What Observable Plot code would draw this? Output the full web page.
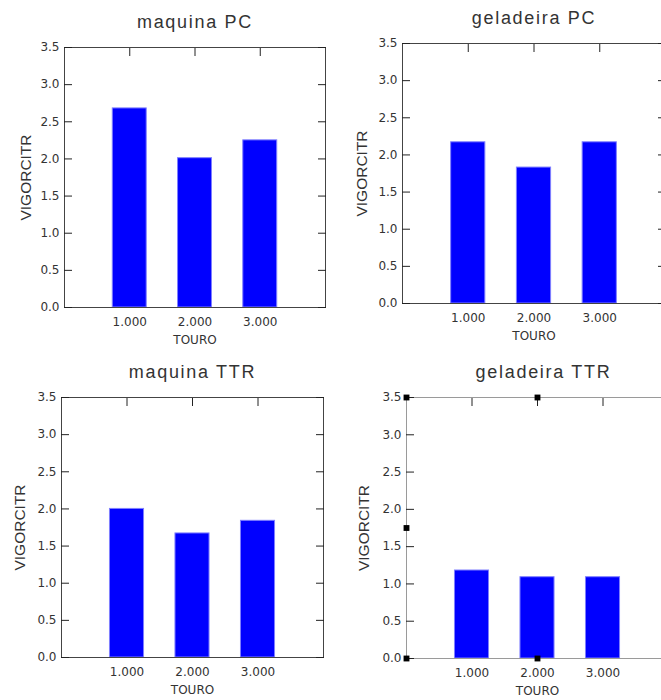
<!DOCTYPE html>
<html>
<head>
<meta charset="utf-8">
<script src="https://cdn.jsdelivr.net/npm/d3@7"></script>
<script src="https://cdn.jsdelivr.net/npm/@observablehq/plot@0.6"></script>
<style>
  html, body { margin: 0; padding: 0; background: #fff; }
  body { width: 661px; height: 700px; overflow: hidden; position: relative; }
  #wrap { position: absolute; left: 0; top: 0; width: 661px; height: 700px; overflow: hidden; }
  #wrap svg { position: absolute; max-width: none; }
</style>
</head>
<body>
<div id="wrap"></div>
<script>
// ---- data ----
const touro = [1, 2, 3];
const yTicks = [0, 0.5, 1, 1.5, 2, 2.5, 3, 3.5];
const titles = ["maquina PC", "geladeira PC", "maquina TTR", "geladeira TTR"];
const maquinaPC = [2.68, 2.01, 2.25];
const geladeiraPC = [2.17, 1.83, 2.17];
const maquinaTTR = [2.0, 1.67, 1.84];
const geladeiraTTR = [1.18, 1.09, 1.09];
const yLabel = "VIGORCITR";
const xLabel = "TOURO";
const handleAnchors = ["top-left", "top", "top-right", "left", "right", "bottom-left", "bottom", "bottom-right"];

// ---- layout (not data) ----
const panels = [
  {title: titles[0], values: maquinaPC,  left: 0,   top: 0,   mt: 47, mr: 15, mb: 43, ml: 64, frame: "#444", handles: false, ylDx: -38, tDx: 0},
  {title: titles[1], values: geladeiraPC, left: 330, top: 0,   mt: 43, mr: 5,  mb: 47, ml: 72, frame: "#444", handles: false, ylDx: -40, tDx: 0},
  {title: titles[2], values: maquinaTTR, left: 0,   top: 350, mt: 47, mr: 17, mb: 43, ml: 61, frame: "#444", handles: false, ylDx: -41, tDx: 0},
  {title: titles[3], values: geladeiraTTR, left: 330, top: 350, mt: 47, mr: 2, mb: 42, ml: 76, frame: "#9a9a9a", handles: true, ylDx: -42, tDx: 6}
];

const wrap = document.getElementById("wrap");
const fmt3 = d3.format(".3f");

for (const p of panels) {
  const rows = touro.map((t, i) => ({touro: t, v: p.values[i]}));
  const marks = [
    Plot.barY(rows, {x: "touro", y: "v", fill: "#0000ff", stroke: "#7f7fff", strokeWidth: 1}),
    Plot.frame({stroke: p.frame, strokeWidth: 1}),
    Plot.axisY({anchor: "left", ticks: yTicks, tickSize: -8, tickPadding: 13, tickFormat: d3.format(".1f"), label: null, stroke: "#222", fill: "#333"}),
    Plot.axisY({anchor: "right", ticks: yTicks, tickSize: -8, tickFormat: () => "", label: null, stroke: "#222"}),
    Plot.axisX({anchor: "top", tickSize: -8, tickFormat: () => "", label: null, stroke: "#222"}),
    Plot.axisX({anchor: "bottom", tickSize: 0, tickPadding: 10, tickFormat: fmt3, label: null, fill: "#333"}),
    Plot.text([p.title], {text: d => d, frameAnchor: "top", dy: -25.5, dx: p.tDx, textAnchor: "middle", lineAnchor: "middle", fontSize: 18, fontFamily: "Liberation Sans", fill: "#333"}),
    Plot.text([xLabel], {text: d => d, frameAnchor: "bottom", dy: 32.8, textAnchor: "middle", lineAnchor: "middle", fontSize: 12, fontFamily: "DejaVu Sans", fill: "#333"}),
    Plot.text([yLabel], {text: d => d, frameAnchor: "left", dx: p.ylDx, rotate: -90, textAnchor: "middle", lineAnchor: "middle", fontSize: 15.5, fontFamily: "Liberation Sans", fill: "#333"})
  ];
  if (p.handles) {
    for (const a of handleAnchors) {
      marks.push(Plot.dot([a], {frameAnchor: a, symbol: "square", r: 3.3, fill: "#000", stroke: null}));
    }
  }
  const chart = Plot.plot({
    width: 340,
    height: 350,
    marginTop: p.mt, marginRight: p.mr, marginBottom: p.mb, marginLeft: p.ml,
    style: {fontFamily: "DejaVu Sans", fontSize: "12px", background: "transparent", overflow: "visible"},
    x: {type: "band", domain: touro, paddingInner: 0.48, paddingOuter: 0.74, round: false},
    y: {domain: [0, 3.5], nice: false},
    marks
  });
  d3.select(chart).selectAll("text")
    .filter(function() { return this.textContent === p.title; })
    .style("letter-spacing", "1.7px");
  chart.style.left = p.left + "px";
  chart.style.top = p.top + "px";
  wrap.appendChild(chart);
}
</script>
</body>
</html>
